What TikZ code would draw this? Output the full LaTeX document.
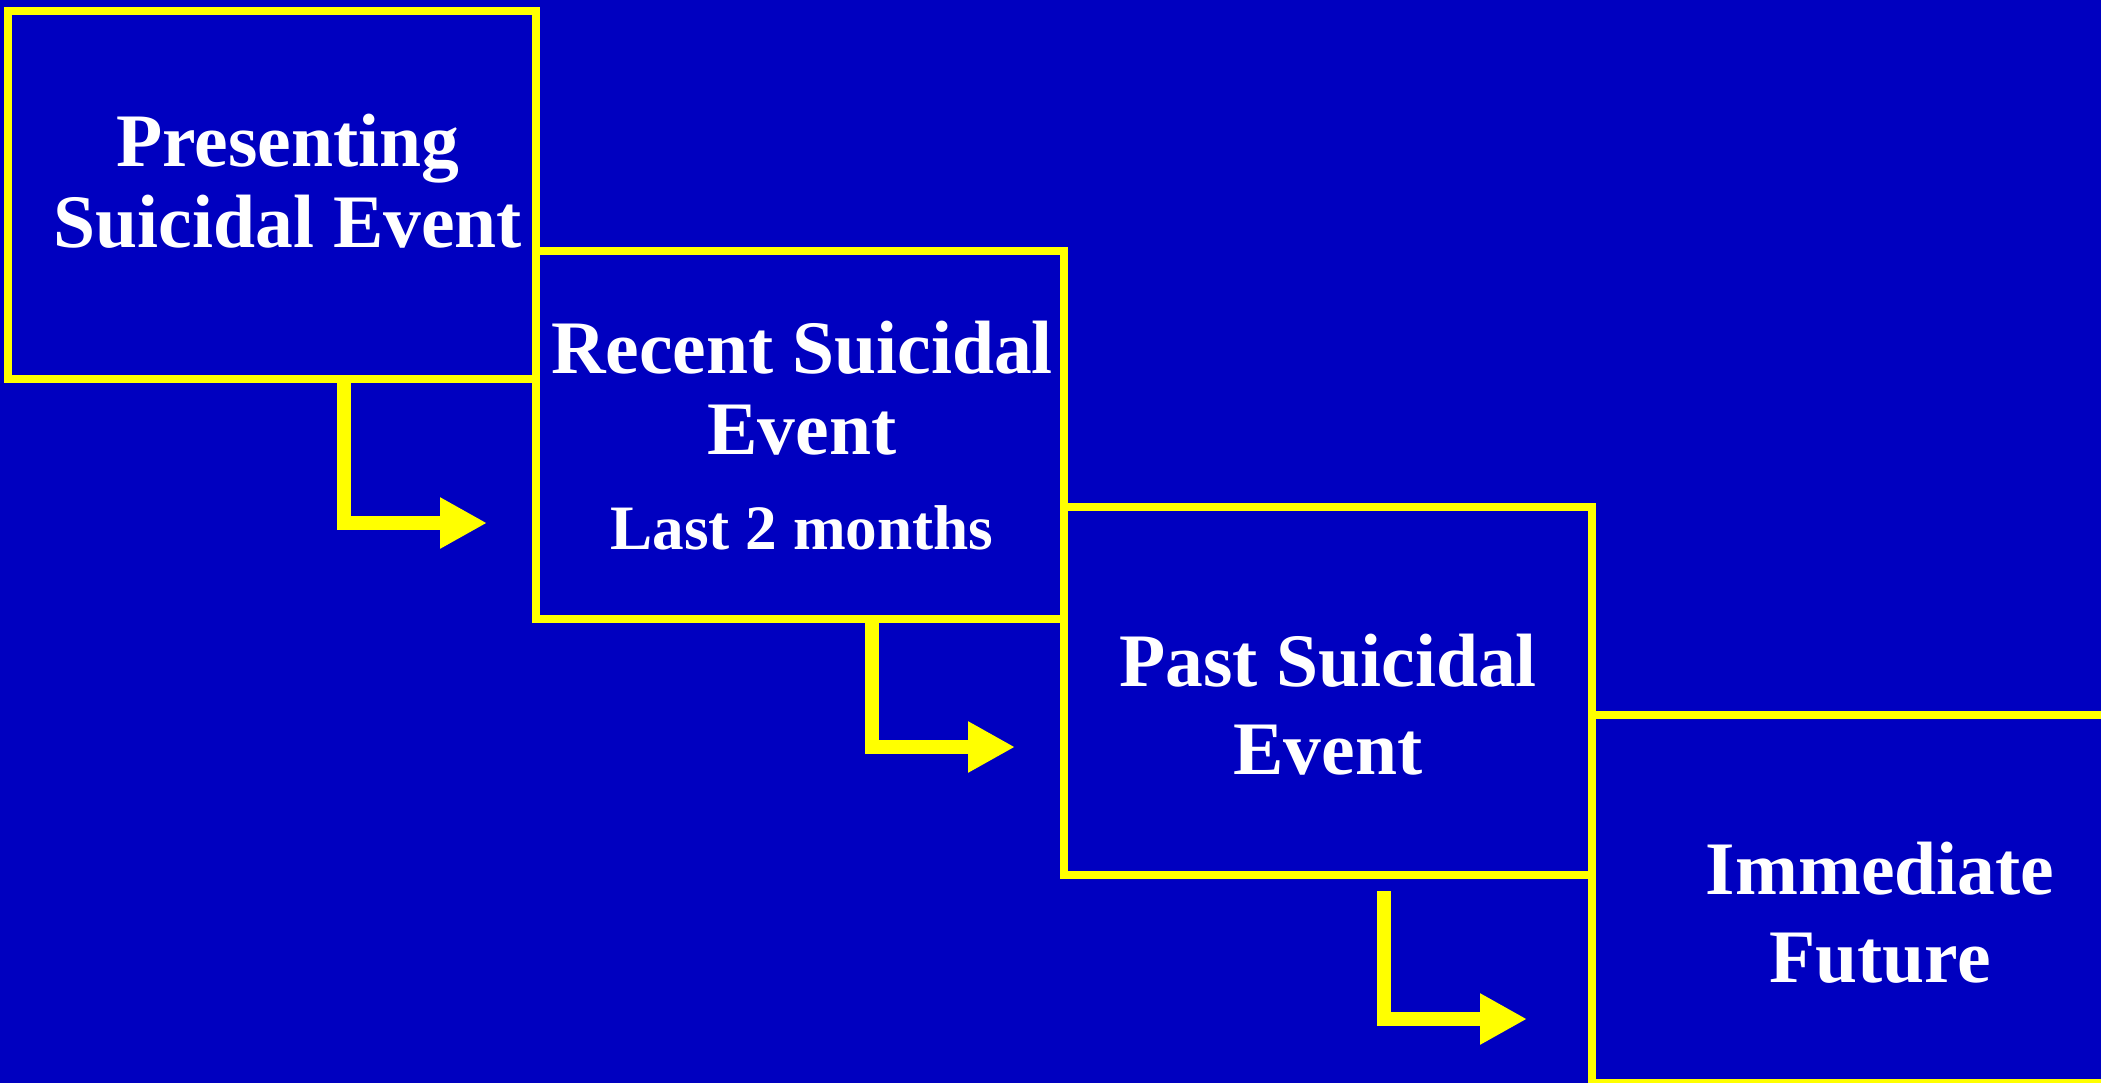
\documentclass[tikz,border=0pt]{standalone}
\usepackage{fontspec}
\setmainfont{Liberation Serif}
\usepackage{xcolor}
\usepackage{tikz}
\usetikzlibrary{arrows.meta,positioning}
\definecolor{slideblue}{RGB}{0,0,192}
\definecolor{slideyellow}{RGB}{255,255,0}
\tikzset{
  stage/.style={draw=slideyellow, line width=0.08cm, minimum width=5.28cm, minimum height=3.68cm, inner sep=0pt, outer sep=0pt, anchor=north west},
  title/.style={text=white, font=\fontsize{21.5}{23}\selectfont\bfseries, align=center, anchor=base, inner sep=0pt},
  note/.style={text=white, font=\fontsize{18}{20}\selectfont\bfseries, anchor=base, inner sep=0pt},
  arrow/.style={-{Triangle[length=0.47cm, width=0.48cm]}, line width=0.14cm, draw=slideyellow, line join=miter}
}
\begin{document}
\begin{tikzpicture}
  \useasboundingbox (0,0) rectangle (21.01,-10.82);
  \fill[slideblue] (-0.2,0.2) rectangle (21.2,-11.0);
  \clip (0,0) rectangle (21.01,-10.82);

  % the four stages, stepping down to the right
  \node[stage] (present) at (0.08,-0.11) {};
  \node[stage, yshift=-2.40cm] (recent) at (present.north east) {};
  \node[stage, yshift=-2.56cm] (past) at (recent.north east) {};
  \node[stage, yshift=-2.08cm] (future) at (past.north east) {};

  % base = last line of each label
  \node[title] (presentlbl) at (2.88,-2.47) {Presenting\\Suicidal Event};
  \node[title] (recentlbl) at (8.02,-4.54) {Recent Suicidal\\Event};
  \node[note] (recentnote) at (8.02,-5.49) {Last 2 months};
  \node[title] (pastlbl) at (13.28,-7.74) {Past Suicidal\\[0.07cm]Event};
  \node[title] (futurelbl) at (18.80,-9.82) {Immediate\\[0.07cm]Future};

  % bent arrows
  \coordinate (bend1) at (3.44,-5.23);
  \coordinate (tip1) at (4.87,-5.23);
  \draw[arrow] (present.south -| bend1) -- (bend1) -- (tip1);
  \coordinate (bend2) at (8.72,-7.47);
  \coordinate (tip2) at (10.15,-7.47);
  \draw[arrow] (recent.south -| bend2) -- (bend2) -- (tip2);
  \coordinate (start3) at (13.84,-8.91);
  \coordinate (bend3) at (13.84,-10.19);
  \coordinate (tip3) at (15.27,-10.19);
  \draw[arrow] (start3) -- (bend3) -- (tip3);
\end{tikzpicture}
\end{document}
